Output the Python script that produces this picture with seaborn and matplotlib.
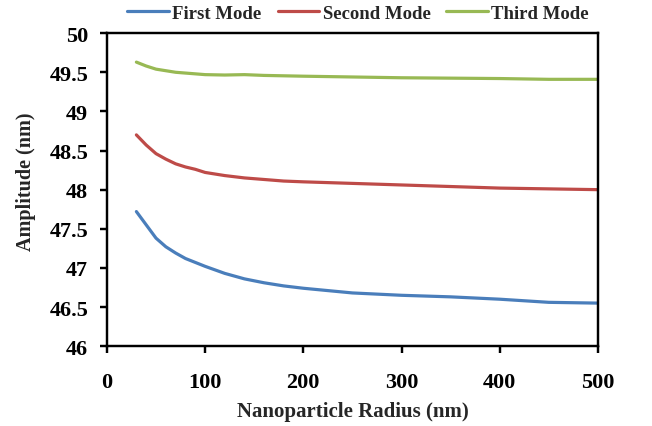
import matplotlib.pyplot as plt
import pandas as pd
import seaborn as sns

# 半徑 (nm) 與三個模態的振幅 (nm)
radius = [30, 40, 50, 60, 70, 80, 90, 100, 120, 140, 160, 180, 200, 250, 300, 350, 400, 450, 500]
first_mode = [47.72, 47.55, 47.38, 47.27, 47.19, 47.12, 47.07, 47.02, 46.93, 46.86, 46.81, 46.77,
              46.74, 46.68, 46.65, 46.63, 46.60, 46.56, 46.55]
second_mode = [48.70, 48.57, 48.46, 48.39, 48.33, 48.29, 48.26, 48.22, 48.18, 48.15, 48.13, 48.11,
               48.10, 48.08, 48.06, 48.04, 48.02, 48.01, 48.00]
third_mode = [49.63, 49.58, 49.54, 49.52, 49.50, 49.49, 49.48, 49.47, 49.465, 49.47, 49.46, 49.455,
              49.45, 49.44, 49.43, 49.425, 49.42, 49.41, 49.41]
modes = ["First Mode", "Second Mode", "Third Mode"]
colors = ["#4A7EBB", "#BE4B48", "#98B954"]
yticks = [46, 46.5, 47, 47.5, 48, 48.5, 49, 49.5, 50]
ytick_labels = ["46", "46.5", "47", "47.5", "48", "48.5", "49", "49.5", "50"]

df = pd.concat([
    pd.DataFrame({"radius": radius, "amp": vals, "mode": name})
    for name, vals in zip(modes, [first_mode, second_mode, third_mode])
])

sns.set_theme(style="ticks")
plt.rcParams["font.family"] = ["Liberation Serif", "DejaVu Serif"]
plt.rcParams["font.weight"] = "bold"

fig, ax = plt.subplots(figsize=(6.52, 4.27), dpi=100)
fig.subplots_adjust(left=0.164, right=0.917, bottom=0.187, top=0.920)

sns.lineplot(data=df, x="radius", y="amp", hue="mode", palette=colors, linewidth=2.3, ax=ax)

ax.set_xlim(0, 500)
ax.set_ylim(46, 50)
ax.set_xticks(range(0, 501, 100))
ax.set_yticks(yticks)
ax.set_yticklabels(ytick_labels)
ax.tick_params(axis="both", labelsize=16, width=1.75, length=5, colors="black")
ax.tick_params(axis="x", pad=13.5)
ax.tick_params(axis="y", pad=8.5)
for lbl in ax.get_xticklabels() + ax.get_yticklabels():
    lbl.set_fontweight("bold")
for sp in ax.spines.values():
    sp.set_linewidth(1.75)
    sp.set_color("black")

ax.set_xlabel("Nanoparticle Radius (nm)", fontsize=15, fontweight="bold")
ax.set_ylabel("Amplitude (nm)", fontsize=14.5, fontweight="bold")
ax.xaxis.set_label_coords(0.5, -0.175)
ax.yaxis.set_label_coords(-0.145, 0.527)

ax.legend(loc="center", bbox_to_anchor=(0.512, 1.064), ncol=3, frameon=False,
          prop={"size": 13.5, "weight": "bold"}, handlelength=2.2, handletextpad=0.2,
          columnspacing=0.85, borderaxespad=0)

fig.savefig("out.png", dpi=100)
